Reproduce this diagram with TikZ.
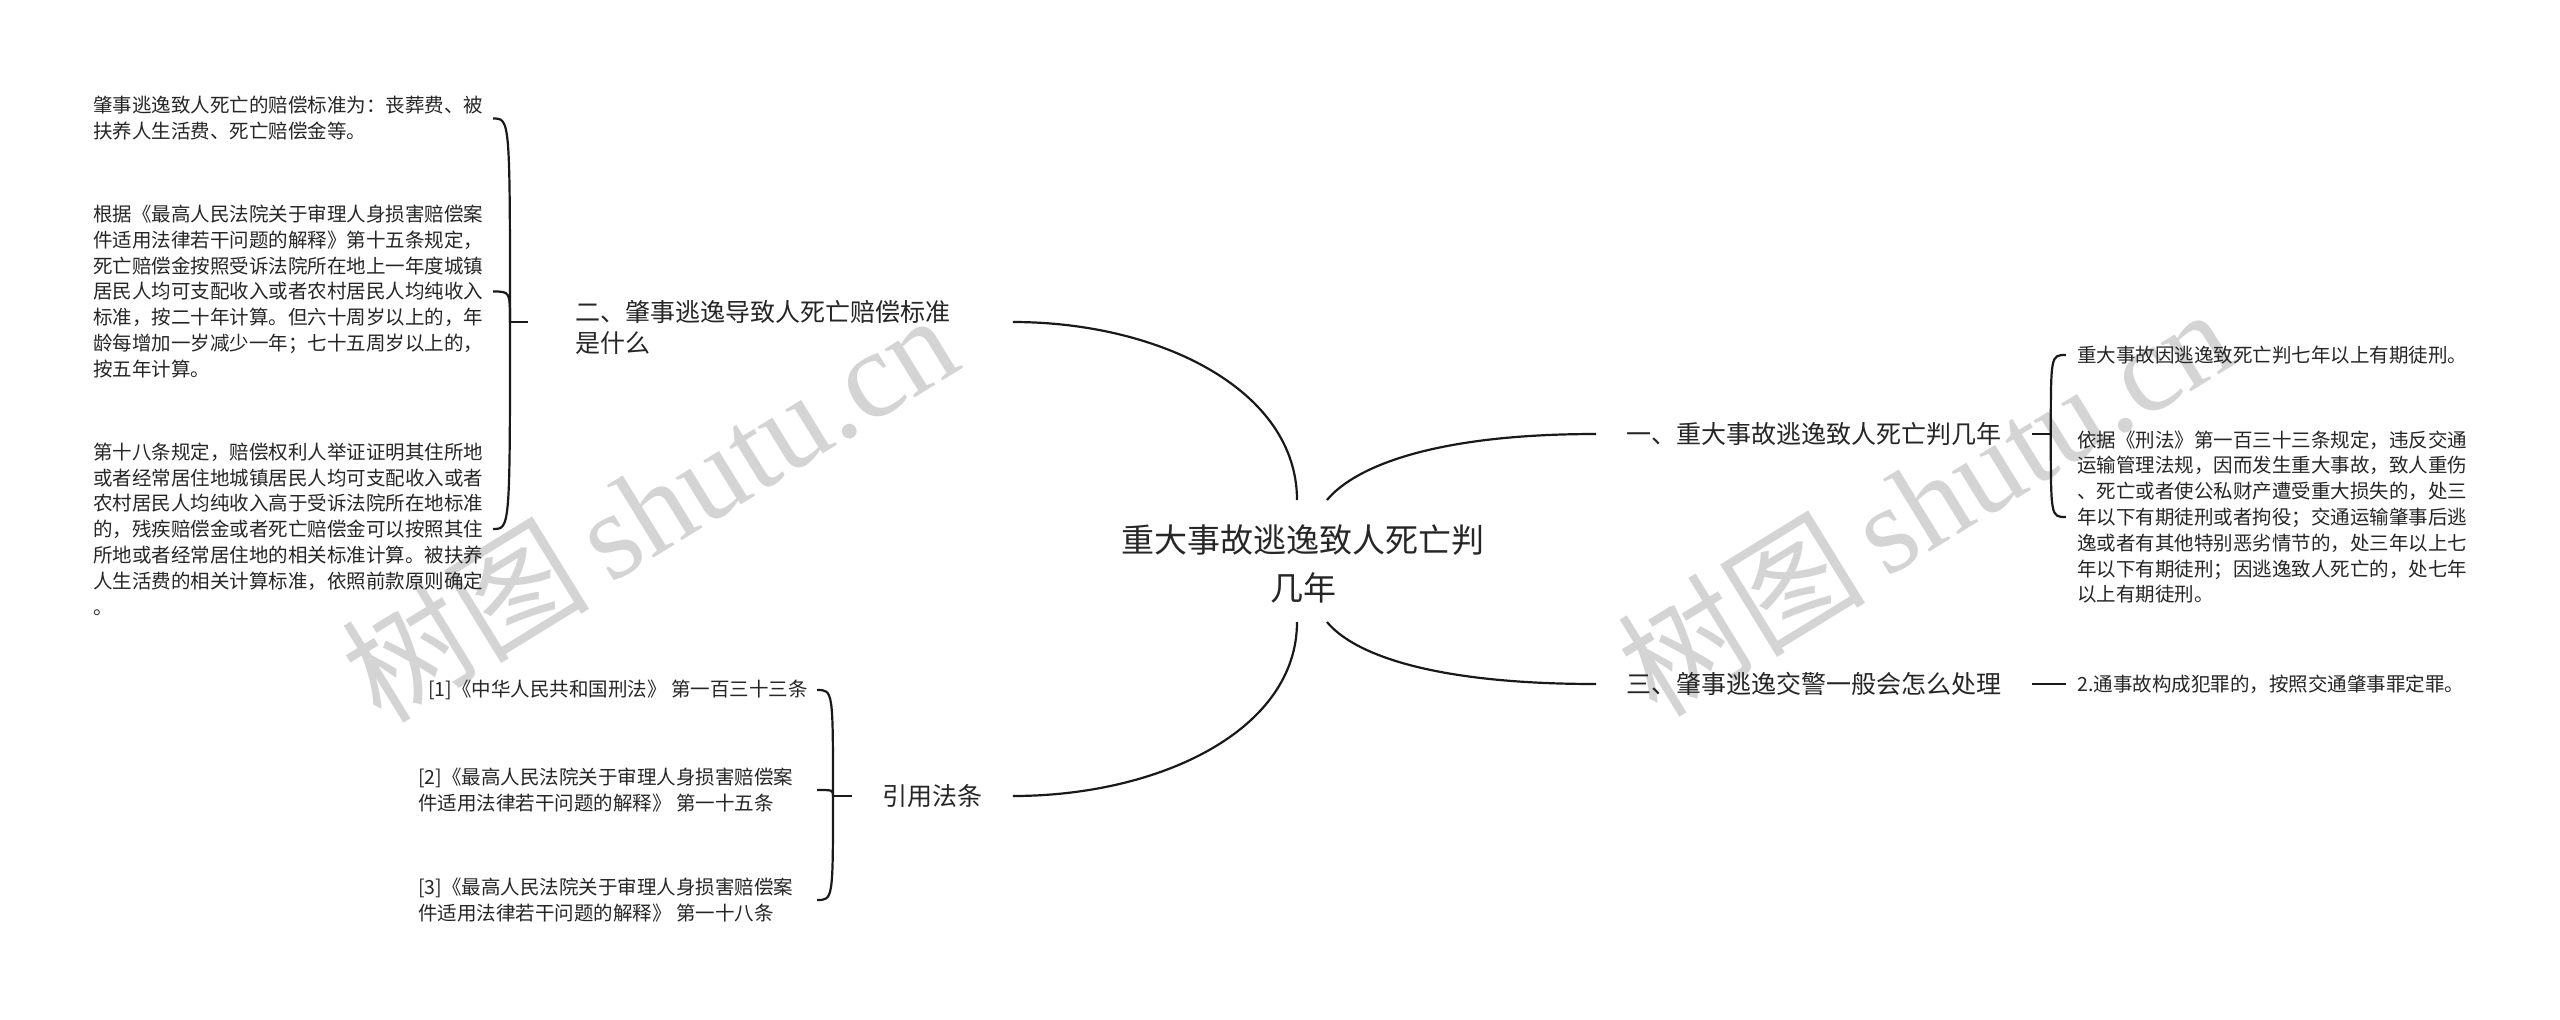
\documentclass[tikz,border=0pt]{standalone}
\usepackage{fontspec}
\setmainfont{Noto Sans CJK SC}
\newfontfamily\wmcjk{Noto Sans CJK SC}
\newfontfamily\wmlat{Liberation Serif}
\usetikzlibrary{calc}
\begin{document}
\begin{tikzpicture}[x=0.5pt,y=-0.5pt,
  conn/.style={line width=1.1pt, draw=black!90},
  leaf/.style={inner sep=0pt, anchor=west, align=left, font=\fontsize{9.75}{12.9}\selectfont, text=black!85},
  branch/.style={inner sep=0pt, anchor=west, align=left, font=\fontsize{12.5}{15.5}\selectfont, text=black!85},
  wm/.style={text=black!17, rotate=31.6, inner sep=0pt, font=\fontsize{62}{66}\selectfont}]
\fill[white] (0,0) rectangle (2560,1019);
\useasboundingbox (0,0) rectangle (2560,1019);

% watermarks
\node[wm] (wm1) at (649,506) {\wmcjk 树图\,\wmlat shutu.cn};
\node[wm] (wm2) at (1925,500) {\wmcjk 树图\,\wmlat shutu.cn};

% root
\node[inner sep=0pt, align=center, font=\fontsize{16.5}{24}\selectfont, text=black!85] (root) at (1303,564) {重大事故逃逸致人死亡判\\几年};

% branches
\node[branch] (b1) at (1626,434) {一、重大事故逃逸致人死亡判几年};
\node[branch] (b3) at (1626,684) {三、肇事逃逸交警一般会怎么处理};
\node[branch] (b2) at (575,327) {二、肇事逃逸导致人死亡赔偿标准\\是什么};
\node[branch] (b4) at (882,796) {引用法条};

% leaves of b1
\node[leaf] (l11) at (2077,355) {重大事故因逃逸致死亡判七年以上有期徒刑。};
\node[leaf] (l12) at (2077,517) {依据《刑法》第一百三十三条规定，违反交通\\运输管理法规，因而发生重大事故，致人重伤\\、死亡或者使公私财产遭受重大损失的，处三\\年以下有期徒刑或者拘役；交通运输肇事后逃\\逸或者有其他特别恶劣情节的，处三年以上七\\年以下有期徒刑；因逃逸致人死亡的，处七年\\以上有期徒刑。};
% leaf of b3
\node[leaf] (l31) at (2077,684) {2.通事故构成犯罪的，按照交通肇事罪定罪。};

% leaves of b2
\node[leaf] (l21) at (93,118.5) {肇事逃逸致人死亡的赔偿标准为：丧葬费、被\\扶养人生活费、死亡赔偿金等。};
\node[leaf] (l22) at (93,291.5) {根据《最高人民法院关于审理人身损害赔偿案\\件适用法律若干问题的解释》第十五条规定，\\死亡赔偿金按照受诉法院所在地上一年度城镇\\居民人均可支配收入或者农村居民人均纯收入\\标准，按二十年计算。但六十周岁以上的，年\\龄每增加一岁减少一年；七十五周岁以上的，\\按五年计算。};
\node[leaf] (l23) at (93,529) {第十八条规定，赔偿权利人举证证明其住所地\\或者经常居住地城镇居民人均可支配收入或者\\农村居民人均纯收入高于受诉法院所在地标准\\的，残疾赔偿金或者死亡赔偿金可以按照其住\\所地或者经常居住地的相关标准计算。被扶养\\人生活费的相关计算标准，依照前款原则确定\\。};

% leaves of b4
\node[leaf] (l41) at (428,690) {[1]《中华人民共和国刑法》 第一百三十三条};
\node[leaf] (l42) at (418,790) {[2]《最高人民法院关于审理人身损害赔偿案\\件适用法律若干问题的解释》 第一十五条};
\node[leaf] (l43) at (418,900) {[3]《最高人民法院关于审理人身损害赔偿案\\件适用法律若干问题的解释》 第一十八条};

% root connectors
\draw[conn] ($(root.center)+(-6,-64)$) .. controls (1297,390) and (1160,322) .. ($(b2.east)+(62,-5)$);
\draw[conn] ($(root.center)+(24,-64)$) .. controls (1350,472) and (1420,434) .. ($(b1.west)+(-30,0)$);
\draw[conn] ($(root.center)+(24,58)$) .. controls (1350,650) and (1420,684) .. ($(b3.west)+(-30,0)$);
\draw[conn] ($(root.center)+(-6,58)$) .. controls (1297,730) and (1160,796) .. ($(b4.east)+(30,0)$);

% bracket b2
\coordinate (J2) at ($(b2.west)+(-65,-5)$);
\draw[conn] ($(b2.west)+(-47,-5)$) -- (J2);
\foreach \c in {l21,l22,l23}{
  \draw[conn] (J2) .. controls (J2 |- \c.east) and (J2 |- \c.east) .. ($(J2 |- \c.east)+(-17,0)$);
}

% bracket b4
\coordinate (J4) at ($(b4.west)+(-49,0)$);
\draw[conn] ($(b4.west)+(-30,0)$) -- (J4);
\foreach \c in {l41,l42,l43}{
  \draw[conn] (J4) .. controls (J4 |- \c.east) and (J4 |- \c.east) .. ($(J4 |- \c.east)+(-16,0)$);
}

% bracket b1
\coordinate (J1) at ($(b1.east)+(49,0)$);
\draw[conn] ($(b1.east)+(30,0)$) -- (J1);
\foreach \c in {l11,l12}{
  \draw[conn] (J1) .. controls (J1 |- \c.west) and (J1 |- \c.west) .. ($(J1 |- \c.west)+(15,0)$);
}

% b3 to its leaf
\draw[conn] ($(b3.east)+(30,0)$) -- ($(l31.west)+(-11,0)$);
\end{tikzpicture}
\end{document}
